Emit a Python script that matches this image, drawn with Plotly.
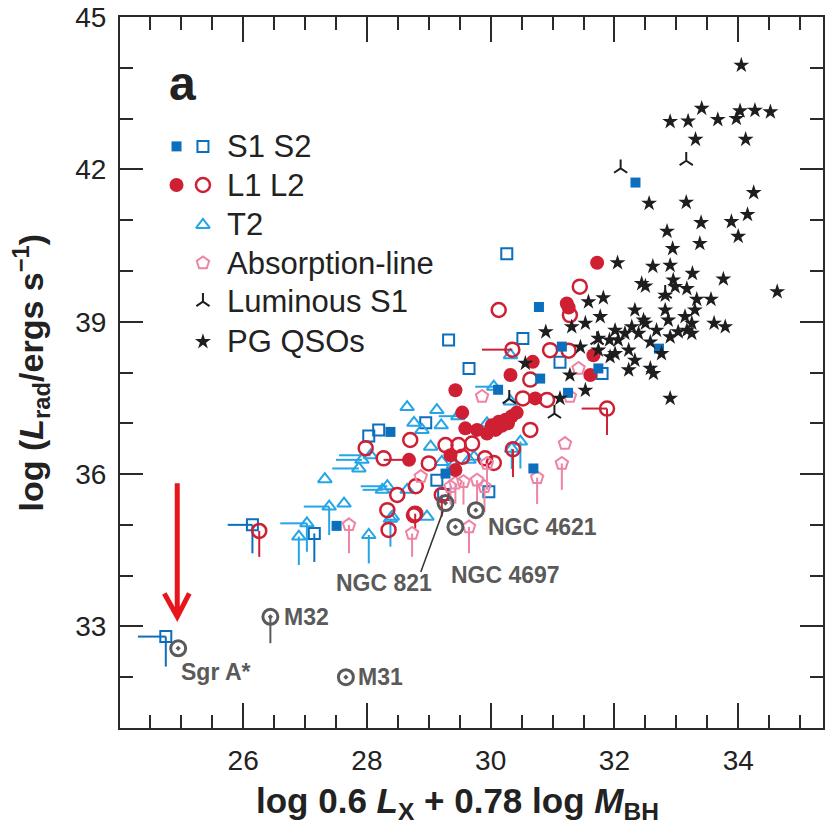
import plotly.graph_objects as go

# ---------------- data ----------------
S1_x = [32.34, 30.78, 32.72, 31.15, 31.74, 30.80, 30.12, 31.25, 30.69, 29.27, 28.38, 27.51]
S1_y = [41.74, 39.29, 38.47, 38.51, 38.08, 37.88, 37.66, 37.60, 36.11, 36.01, 36.83, 34.98]

S2_x = [30.26, 29.32, 30.52, 29.65, 31.12, 31.80, 28.95, 28.03, 28.19, 26.15, 27.15, 29.97, 24.75, 29.24, 29.13]
S2_y = [40.34, 38.64, 38.67, 38.08, 38.20, 37.98, 37.01, 36.75, 36.87, 35.00, 34.83, 35.65, 32.80, 35.60, 35.88]
S2_xlo = [0, 0, 0, 0, 0, 0, 0, 0, 0, 0.40, 0, 0, 0.45, 0, 0]
S2_ylo = [0, 0, 0, 0, 0, 0, 0, 0, 0, 0.56, 0.56, 0, 0.59, 0, 0]

L1_x = [31.72, 31.23, 31.26, 31.66, 31.61, 30.68, 30.32, 29.43, 30.72, 29.54, 30.02, 30.13,
        30.24, 30.34, 30.42, 30.08, 29.94, 30.18, 30.28, 29.59, 29.78, 28.68, 29.35, 29.43]
L1_y = [40.16, 39.36, 39.28, 38.34, 37.95, 38.21, 37.95, 37.65, 37.49, 37.21, 36.96, 37.03,
        37.07, 37.14, 37.21, 36.87, 36.80, 36.95, 37.00, 36.90, 36.87, 36.28, 36.37, 36.08]
L1_xlo = [0] * 21 + [0.41, 0, 0]

L2_x = [31.44, 30.13, 31.28, 30.35, 30.96, 31.26, 30.64, 30.52, 30.91, 31.88, 30.64, 28.70, 27.98, 29.27,
        29.48, 28.27, 29.00, 29.91, 28.49, 28.33, 28.76, 28.35, 26.26, 30.36, 28.78, 29.21, 29.70, 28.79,
        29.54, 30.05]
L2_y = [39.69, 39.23, 39.13, 38.45, 38.44, 38.43, 37.86, 37.49, 37.46, 37.29, 36.87, 36.67, 36.51, 36.57,
        36.57, 36.31, 36.21, 36.31, 35.59, 35.29, 35.19, 34.90, 34.88, 36.49, 35.22, 35.59, 36.60, 35.76,
        36.34, 36.22]
L2_xlo = [0, 0, 0, 0.49, 0, 0, 0, 0, 0, 0.41] + [0] * 20
L2_ylo = [0] * 9 + [0.52] + [0] * 12 + [0.51, 0.55, 0.30, 0.43, 0, 0, 0, 0]

T2_x = [28.65, 28.76, 29.13, 29.47, 29.20, 28.89, 29.94, 30.32, 30.32, 30.05, 28.06, 27.92, 27.87, 27.32,
        28.33, 28.25, 28.65, 27.63, 27.39, 27.03, 26.90, 28.03, 28.38, 29.03, 29.21, 29.40, 29.65, 30.48,
        30.34, 28.97, 28.41, 29.73]
T2_y = [37.32, 37.01, 37.26, 37.14, 36.96, 36.87, 37.00, 38.34, 37.43, 37.72, 36.37, 36.28, 36.11, 35.90,
        35.76, 35.69, 35.69, 35.42, 35.36, 35.03, 34.77, 34.80, 35.12, 36.54, 36.24, 36.18, 36.28, 36.64,
        36.50, 35.16, 35.16, 36.34]
T2_xlo = [0, 0, 0, 0.31, 0, 0, 0, 0, 0, 0.30, 0.51, 0.42, 0.43, 0, 0.43, 0.32, 0, 0, 0.41, 0.43,
          0, 0, 0, 0, 0, 0, 0, 0, 0, 0, 0, 0]
T2_ylo = [0] * 18 + [0.56, 0.56, 0.56, 0.56, 0.55, 0, 0, 0, 0, 0.53, 0.40, 0, 0, 0]

AB_x = [29.86, 31.20, 31.15, 30.75, 29.94, 29.78, 29.56, 28.87, 28.73, 29.65, 27.71, 31.42, 31.28, 29.35,
        29.90, 29.43]
AB_y = [37.53, 36.60, 36.21, 35.93, 36.21, 35.88, 35.85, 35.95, 34.83, 34.96, 35.00, 38.08, 37.53, 35.75,
        35.75, 35.82]
AB_ylo = [0, 0, 0.52, 0.52, 0.52, 0.45, 0.45, 0, 0.46, 0.52, 0.56, 0, 0, 0.35, 0.50, 0.40]

LS_x = [32.10, 33.16, 31.72, 31.03, 32.82, 30.30]
LS_y = [42.02, 42.17, 38.64, 37.19, 39.55, 37.48]

PG_x = [34.05, 33.41, 32.90, 33.19, 33.67, 33.97, 34.03, 34.27, 34.52, 33.31, 34.12,
        32.56, 33.16, 34.25, 34.15, 33.40, 33.89, 32.85, 33.38, 34.00, 32.94,
        32.05, 32.62, 32.90, 33.26, 33.76, 32.95, 32.50, 32.98, 34.63, 33.17, 32.82, 33.33, 33.56,
        31.58, 31.82, 31.77, 31.53, 30.89, 32.33, 32.47, 32.82, 32.87, 33.14, 33.25, 33.61, 33.79,
        32.01, 32.17, 32.28, 32.06, 32.39, 32.50, 32.68, 32.90, 33.03, 33.17, 33.25, 33.30,
        31.92, 31.74, 31.93, 32.23, 32.58, 32.33, 32.23, 32.58, 32.63, 31.53, 31.28, 31.45, 31.74,
        32.90, 31.12, 31.31, 32.76, 32.44, 30.56, 32.01]
PG_y = [44.05, 43.20, 42.94, 42.95, 42.98, 43.00, 43.15, 43.16, 43.13, 42.59, 42.59,
        41.33, 41.35, 41.54, 41.11, 40.95, 40.97, 40.78, 40.54, 40.68, 40.44,
        40.16, 40.09, 40.11, 39.95, 39.84, 39.82, 39.70, 39.69, 39.59, 39.65, 39.52, 39.44, 39.44,
        39.39, 39.47, 39.10, 38.97, 38.80, 39.23, 39.03, 39.23, 39.03, 39.10, 38.97, 38.97, 38.90,
        38.83, 38.77, 38.90, 38.64, 38.77, 38.97, 38.83, 38.70, 38.80, 38.83, 38.77, 39.23,
        38.64, 38.44, 38.31, 38.44, 38.60, 38.24, 38.05, 38.08, 37.98, 37.65, 37.95, 38.50, 38.67,
        37.49, 37.49, 38.90, 38.37, 39.75, 38.18, 38.37]

SP_names = ["Sgr A*", "M32", "M31", "NGC 821", "NGC 4697", "NGC 4621"]
SP_x = [24.95, 26.44, 27.66, 29.27, 29.43, 29.76]
SP_y = [32.57, 33.19, 32.00, 35.43, 34.96, 35.29]
SP_ylo = [0, 0.52, 0, 0, 0, 0]
# label anchor positions (left edge, vertical middle)
LAB_x = [24.97, 26.63, 27.82, 27.47, 29.32, 29.92]
LAB_y = [32.10, 33.19, 32.00, 33.85, 34.01, 34.96]
# leader line from the "NGC 821" label to its marker
LEAD_x = [28.87, 29.24]
LEAD_y = [34.07, 35.30]

LEG_labels = ["S1 S2", "L1 L2", "T2", "Absorption-line", "Luminous S1", "PG QSOs"]
LEG_y = [0.818, 0.7637, 0.7075, 0.654, 0.5996, 0.5434]

# ---------------- styles ----------------
BLUE = "#0b6fbd"
RED = "#cf1f33"
CYAN = "#25a5e6"
PINK = "#ee84a3"
BLACK = "#1e1e1e"
GRAY = "#5a5a5a"
AX = "#2a2a2a"
FONT = "Liberation Sans, Arial, Helvetica, sans-serif"


def err(lo, color):
    return dict(type="data", symmetric=False, array=[0] * len(lo), arrayminus=lo,
                width=0, thickness=2, color=color, visible=True)


fig = go.Figure()

# S2 open squares
fig.add_trace(go.Scatter(x=S2_x, y=S2_y, mode="markers",
                         marker=dict(symbol="square-open", size=11, color=BLUE, line=dict(width=2, color=BLUE)),
                         error_x=err(S2_xlo, BLUE), error_y=err(S2_ylo, BLUE)))
# T2
fig.add_trace(go.Scatter(x=T2_x, y=T2_y, mode="markers",
                         marker=dict(symbol="triangle-up-open", size=12, color=CYAN, line=dict(width=2, color=CYAN)),
                         error_x=err(T2_xlo, CYAN), error_y=err(T2_ylo, CYAN)))
# L2 open circles
fig.add_trace(go.Scatter(x=L2_x, y=L2_y, mode="markers",
                         marker=dict(symbol="circle-open", size=14, color=RED, line=dict(width=2.5, color=RED)),
                         error_x=err(L2_xlo, RED), error_y=err(L2_ylo, RED)))
# Absorption-line pentagons
fig.add_trace(go.Scatter(x=AB_x, y=AB_y, mode="markers",
                         marker=dict(symbol="pentagon-open", size=13, color=PINK, line=dict(width=2, color=PINK)),
                         error_y=err(AB_ylo, PINK)))
# L1 filled circles
fig.add_trace(go.Scatter(x=L1_x, y=L1_y, mode="markers",
                         marker=dict(symbol="circle", size=14, color=RED, line=dict(width=0)),
                         error_x=err(L1_xlo, RED)))
# S1 filled squares
fig.add_trace(go.Scatter(x=S1_x, y=S1_y, mode="markers",
                         marker=dict(symbol="square", size=10, color=BLUE, line=dict(width=0))))
# PG QSOs
fig.add_trace(go.Scatter(x=PG_x, y=PG_y, mode="markers",
                         marker=dict(symbol="star", size=12, color=BLACK, line=dict(width=0))))
# Luminous S1
fig.add_trace(go.Scatter(x=LS_x, y=LS_y, mode="markers",
                         marker=dict(symbol="y-up", size=11, color=BLACK, line=dict(width=2, color=BLACK))))
# leader line for NGC 821
fig.add_trace(go.Scatter(x=LEAD_x, y=LEAD_y, mode="lines", line=dict(color="#333", width=1.5)))
# special objects
fig.add_trace(go.Scatter(x=SP_x, y=SP_y, mode="markers",
                         marker=dict(symbol="circle-open-dot", size=15, color=GRAY, line=dict(width=3, color=GRAY)),
                         error_y=err(SP_ylo, GRAY)))

# ---------------- legend (overlay axes 0..1) ----------------
fig.add_trace(go.Scatter(x=[0.0804], y=[LEG_y[0]], xaxis="x2", yaxis="y2", mode="markers",
                         marker=dict(symbol="square", size=10, color=BLUE)))
fig.add_trace(go.Scatter(x=[0.118], y=[LEG_y[0]], xaxis="x2", yaxis="y2", mode="markers",
                         marker=dict(symbol="square-open", size=11, color=BLUE, line=dict(width=2, color=BLUE))))
fig.add_trace(go.Scatter(x=[0.0804], y=[LEG_y[1]], xaxis="x2", yaxis="y2", mode="markers",
                         marker=dict(symbol="circle", size=14, color=RED)))
fig.add_trace(go.Scatter(x=[0.118], y=[LEG_y[1]], xaxis="x2", yaxis="y2", mode="markers",
                         marker=dict(symbol="circle-open", size=14, color=RED, line=dict(width=2.5, color=RED))))
fig.add_trace(go.Scatter(x=[0.118], y=[LEG_y[2]], xaxis="x2", yaxis="y2", mode="markers",
                         marker=dict(symbol="triangle-up-open", size=12, color=CYAN, line=dict(width=2, color=CYAN))))
fig.add_trace(go.Scatter(x=[0.118], y=[LEG_y[3]], xaxis="x2", yaxis="y2", mode="markers",
                         marker=dict(symbol="pentagon-open", size=13, color=PINK, line=dict(width=2, color=PINK))))
fig.add_trace(go.Scatter(x=[0.118], y=[LEG_y[4]], xaxis="x2", yaxis="y2", mode="markers",
                         marker=dict(symbol="y-up", size=11, color=BLACK, line=dict(width=2, color=BLACK))))
fig.add_trace(go.Scatter(x=[0.118], y=[LEG_y[5]], xaxis="x2", yaxis="y2", mode="markers",
                         marker=dict(symbol="star", size=12, color=BLACK)))

annotations = []
for lab, ly in zip(LEG_labels, LEG_y):
    annotations.append(dict(xref="paper", yref="paper", x=0.149, y=ly, text=lab, showarrow=False,
                            xanchor="left", yanchor="middle", font=dict(size=31, color="#222", family=FONT)))
annotations.append(dict(xref="paper", yref="paper", x=0.089, y=0.907, text="<b>a</b>", showarrow=False,
                        xanchor="center", yanchor="middle", font=dict(size=48, color="#222", family=FONT)))

for name, lx, ly in zip(SP_names, LAB_x, LAB_y):
    annotations.append(dict(x=lx, y=ly, text="<b>" + name + "</b>", showarrow=False,
                            xanchor="left", yanchor="middle", font=dict(size=23, color=GRAY, family=FONT)))

# axis titles
annotations.append(dict(xref="paper", yref="paper", x=0.48, y=-0.105,
                        text="<b>log 0.6 <i>L</i><sub>X</sub> + 0.78 log <i>M</i><sub>BH</sub></b>",
                        showarrow=False, xanchor="center", yanchor="middle",
                        font=dict(size=35, color="#222", family=FONT)))
annotations.append(dict(xref="paper", x=-0.128, yref="paper", y=0.5, textangle=-90,
                        text="<b>log (<i>L</i><sub>rad</sub>/ergs s<sup>−1</sup>)</b>",
                        showarrow=False, xanchor="center", yanchor="middle",
                        font=dict(size=34, color="#222", family=FONT)))

# red arrow pointing at Sgr A*
shapes = [dict(type="path", xref="x", yref="y",
               path="M24.935,35.82 L24.935,33.2 M24.726,33.65 L24.935,33.19 L25.13,33.65",
               line=dict(color="#e8161c", width=5))]

axis_common = dict(ticks="inside", tickwidth=2, tickcolor=AX, showline=True, linewidth=2, linecolor=AX,
                   mirror="allticks", showgrid=False, zeroline=False,
                   tickfont=dict(size=28, color="#222", family=FONT))

fig.update_layout(
    width=825, height=825,
    margin=dict(l=120, r=0, t=17, b=97),
    plot_bgcolor="white", paper_bgcolor="white",
    showlegend=False,
    font=dict(family=FONT),
    xaxis=dict(range=[24.01, 35.37], tickmode="linear", tick0=0, dtick=2, ticklen=25,
               minor=dict(dtick=0.5, tick0=0, ticklen=13, tickwidth=2, tickcolor=AX, ticks="inside"),
               ticklabelstandoff=6, **axis_common),
    yaxis=dict(range=[31, 45], tickmode="linear", tick0=0, dtick=3, ticklen=23,
               minor=dict(dtick=1, tick0=0, ticklen=13, tickwidth=2, tickcolor=AX, ticks="inside"),
               ticklabelstandoff=6, **axis_common),
    xaxis2=dict(overlaying="x", range=[0, 1], visible=False),
    yaxis2=dict(overlaying="y", range=[0, 1], visible=False),
    annotations=annotations,
    shapes=shapes,
)

fig.write_html("out.html")
